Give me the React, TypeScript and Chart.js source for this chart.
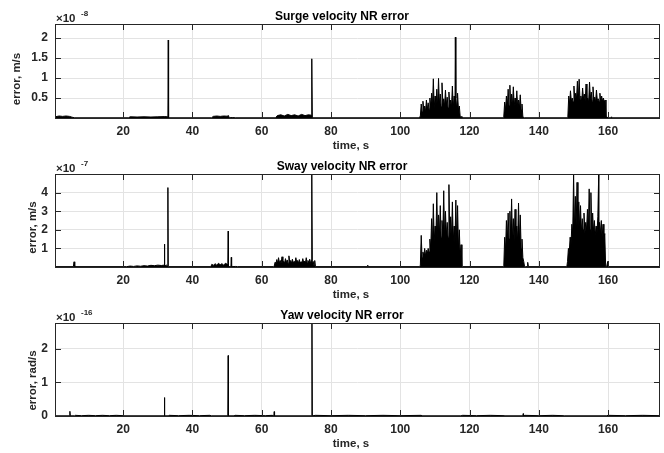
import React, { useEffect, useRef } from "react";
import { Chart, registerables } from "chart.js";
Chart.register(...registerables);

// ---------- shared axis data ----------
const SAMPLE_DT = 0.25; // s, spacing of samples inside the dense bursts
const X_MIN = 0.3;
const X_MAX = 175;
const xTicks = [20, 40, 60, 80, 100, 120, 140, 160];

// ---------- Surge velocity NR error (x1e-8 m/s) ----------
const surgeYTicks = [0.5, 1, 1.5, 2];
const surgeYTickLabels = ["0.5", "1", "1.5", "2"];
const surgeQuiet: [number, number][] = [
  [0.3, 0.03], [1.5, 0.05], [2.5, 0.04], [3.5, 0.05], [4.5, 0.04], [5.2, 0.02], [6, 0.005],
  [21.5, 0.005], [22, 0.03], [24, 0.025], [26, 0.03], [28, 0.025], [30, 0.03], [32, 0.035], [32.8, 0.03],
  [32.9, 0.005], [33.0, 1.95], [33.1, 0.005],
  [45.5, 0.005], [46, 0.04], [47, 0.05], [48, 0.04], [49, 0.05], [50, 0.045], [50.4, 0.06], [50.6, 0.005],
  [51.5, 0.012], [52.5, 0.005],
  [64, 0.005], [64.5, 0.06], [65.5, 0.08], [66.5, 0.05], [67.5, 0.09], [68.5, 0.06], [69.5, 0.08],
  [70.5, 0.05], [71.5, 0.09], [72.5, 0.06], [73.5, 0.08], [74.3, 0.07],
  [74.4, 0.005], [74.5, 1.48], [74.6, 0.005],
  [105.5, 0.005], [115.9, 2.02],
  [117.5, 0.005], [117.8, 0.04], [118, 0.005],
  [129.7, 0.005], [135.8, 0.005],
  [148.2, 0.005], [160, 0.005], [160.8, 0.005], [161, 0.03], [161.2, 0.005], [175, 0.005],
];
const surgeBurstStarts = [105.8, 129.9, 148.4];
const surgeBurstA = [
  0.05, 0.35, 0.15, 0.42, 0.18, 0.3, 0.15, 0.45, 0.2, 0.38,
  0.22, 0.5, 0.28, 0.62, 0.3, 0.98, 0.25, 0.55, 0.32, 0.72,
  0.3, 0.99, 0.35, 0.6, 0.28, 0.88, 0.35, 0.48, 0.3, 0.7,
  0.32, 0.52, 0.25, 0.65, 0.3, 0.45, 0.28, 0.8, 0.25, 0.55,
  0.3, 0.5, 0.22, 0.62, 0.2, 0.3, 0.04,
];
const surgeBurstB = [
  0.05, 0.4, 0.2, 0.55, 0.25, 0.72, 0.3, 0.82, 0.28, 0.6, 0.32, 0.78,
  0.3, 0.5, 0.3, 0.68, 0.28, 0.45, 0.25, 0.58, 0.2, 0.35, 0.03,
];
const surgeBurstC = [
  0.05, 0.55, 0.35, 0.68, 0.42, 0.5, 0.4, 0.8, 0.45, 0.62,
  0.48, 0.92, 0.42, 0.97, 0.45, 0.55, 0.4, 0.75, 0.48, 0.6,
  0.42, 0.85, 0.46, 0.5, 0.4, 0.9, 0.48, 0.65, 0.42, 0.78,
  0.45, 0.52, 0.4, 0.7, 0.44, 0.48, 0.42, 0.62, 0.4, 0.55,
  0.42, 0.5, 0.4, 0.45, 0.04,
];

// ---------- Sway velocity NR error (x1e-7 m/s) ----------
const swayYTicks = [1, 2, 3, 4];
const swayYTickLabels = ["1", "2", "3", "4"];
const swayQuiet: [number, number][] = [
  [0.3, 0.02], [5.6, 0.02], [5.8, 0.28], [6.0, 0.02],
  [21, 0.02], [22, 0.05], [23, 0.03], [24, 0.06], [25, 0.04], [26, 0.07], [27, 0.05], [28, 0.09],
  [29, 0.07], [30, 0.1], [31, 0.08], [31.8, 0.1], [31.9, 1.23], [32.0, 0.05], [32.5, 0.1], [32.8, 0.05],
  [32.9, 4.27], [33.0, 0.02],
  [45.3, 0.02], [45.6, 0.15], [46, 0.08], [46.5, 0.18], [47, 0.1], [47.5, 0.2], [48, 0.12], [48.5, 0.18],
  [49, 0.1], [49.5, 0.2], [50, 0.15], [50.2, 0.02], [50.3, 1.93], [50.4, 0.02],
  [51.1, 0.02], [51.2, 0.52], [51.3, 0.02], [52.5, 0.03], [53, 0.02],
  [63.4, 0.02], [74.45, 5.0], [75.3, 0.35], [75.5, 0.02],
  [90.5, 0.02], [90.6, 0.1], [90.7, 0.02],
  [105.6, 0.02], [117.9, 0.02],
  [129.7, 0.02], [136.6, 0.02], [136.8, 0.25], [137, 0.02],
  [148.1, 0.02], [157.3, 5.0],
  [159.6, 0.02], [159.9, 0.3], [160.2, 0.02], [175, 0.02],
];
const swayBurstStarts = [63.6, 105.8, 129.9, 148.3];
const swayBurst0 = [
  0.05, 0.25, 0.18, 0.4, 0.2, 0.5, 0.22, 0.35, 0.2, 0.55,
  0.25, 0.3, 0.2, 0.45, 0.22, 0.38, 0.2, 0.6, 0.25, 0.35,
  0.2, 0.42, 0.22, 0.3, 0.2, 0.5, 0.25, 0.35, 0.2, 0.4,
  0.22, 0.28, 0.2, 0.45, 0.25, 0.32, 0.2, 0.5, 0.22, 0.35,
  0.2, 0.42, 0.18, 0.38, 0.15, 0.3, 0.05,
];
const swayBurstA = [
  0.1, 1.7, 0.5, 0.8, 0.6, 1.0, 0.6, 0.9, 0.7, 1.0,
  0.8, 1.5, 1.0, 2.6, 1.3, 3.4, 1.4, 2.2, 1.6, 4.0,
  1.5, 2.8, 1.7, 3.3, 1.6, 2.5, 1.8, 4.1, 1.5, 3.0,
  1.7, 2.4, 1.6, 4.43, 1.5, 2.7, 1.6, 3.5, 1.4, 2.2,
  1.3, 3.6, 1.2, 3.3, 1.0, 2.0, 0.6, 1.2, 0.05,
];
const swayBurstB = [
  0.1, 1.6, 0.9, 2.5, 1.3, 2.9, 1.5, 3.0, 1.6, 3.66, 1.5, 2.6, 1.4,
  3.1, 1.5, 2.2, 1.4, 3.44, 1.3, 2.8, 1.0, 1.5, 0.5, 0.3, 0.02, 0.02,
];
const swayBurstC = [
  0.3, 1.0, 0.8, 1.6, 1.2, 2.3, 1.8, 5.0, 2.0, 3.8,
  2.2, 4.55, 2.0, 3.5, 2.1, 3.3, 1.9, 2.6, 2.0, 2.9,
  1.8, 2.4, 2.0, 3.1, 1.9, 4.2, 2.0, 4.0, 1.8, 2.9,
  1.9, 2.5, 1.7, 2.2, 1.8, 2.7, 1.7, 2.4, 1.8, 2.5,
  1.6, 2.3, 1.4, 1.8, 0.05,
];

// ---------- Yaw velocity NR error (x1e-16 rad/s) ----------
const yawYTicks = [0, 1, 2];
const yawYTickLabels = ["0", "1", "2"];
const yawQuiet: [number, number][] = [
  [0.3, 0.005], [4.5, 0.005], [4.6, 0.14], [4.7, 0.005], [6.0, 0.005], [6.2, 0.02], [8, 0.01], [10, 0.02],
  [12, 0.01], [14, 0.02], [16, 0.01], [18, 0.02], [20, 0.01], [20.5, 0.005],
  [31.8, 0.005], [31.9, 0.55], [32.0, 0.005], [33, 0.005], [33.3, 0.02], [36, 0.01], [39, 0.02], [42, 0.01],
  [45, 0.02], [45.5, 0.005], [50.2, 0.005], [50.3, 1.8], [50.4, 0.005], [52, 0.005], [52.3, 0.02], [55, 0.01],
  [58, 0.02], [61, 0.01], [63, 0.02], [63.5, 0.005], [63.6, 0.13], [63.7, 0.005],
  [74.4, 0.005], [74.5, 2.77], [74.6, 0.005], [75.5, 0.02], [80, 0.01], [85, 0.02], [90, 0.01], [95, 0.02],
  [100, 0.01], [106, 0.02], [106.5, 0.005], [117.5, 0.005], [118, 0.02], [122, 0.01], [126, 0.02],
  [130, 0.01], [130.5, 0.005], [135.4, 0.005], [135.5, 0.07], [135.6, 0.005], [136, 0.02], [140, 0.01],
  [144, 0.02], [147, 0.01], [147.5, 0.005], [159.5, 0.005], [160, 0.02], [165, 0.01], [170, 0.02], [175, 0.01],
];

// ---------- helpers ----------
function buildSeries(quiet: [number, number][], starts: number[], bursts: number[][]) {
  const pts: { x: number; y: number }[] = quiet.map(([x, y]) => ({ x, y }));
  bursts.forEach((vals, b) => {
    vals.forEach((v, i) => pts.push({ x: starts[b] + i * SAMPLE_DT, y: v }));
  });
  pts.sort((a, b) => a.x - b.x);
  return pts;
}

const FONT = "'Liberation Sans', Arial, Helvetica, sans-serif";
const AXIS_COLOR = "#262626";

type PanelProps = {
  top: number;
  height: number;
  padTop: number;
  xAxisH: number;
  yMin: number;
  yMax: number;
  yTicks: number[];
  yTickLabels: string[];
  points: { x: number; y: number }[];
  title: string;
  ylabel: string;
  exponent: string;
  ylabelX: number;
  ylabelDy: number;
};

function Panel(p: PanelProps) {
  const ref = useRef<HTMLCanvasElement | null>(null);
  useEffect(() => {
    if (!ref.current) return;
    const deco = {
      id: "matlabDeco",
      afterDraw(chart: any) {
        const { ctx, chartArea: a } = chart;
        const xs = chart.scales.x;
        const ys = chart.scales.y;
        ctx.save();
        ctx.strokeStyle = AXIS_COLOR;
        ctx.lineWidth = 1;
        ctx.beginPath();
        xTicks.forEach((v) => {
          const px = Math.round(xs.getPixelForValue(v)) + 0.5;
          ctx.moveTo(px, a.bottom);
          ctx.lineTo(px, a.bottom - 6);
          ctx.moveTo(px, a.top);
          ctx.lineTo(px, a.top + 6);
        });
        p.yTicks.forEach((v) => {
          const py = Math.round(ys.getPixelForValue(v)) + 0.5;
          ctx.moveTo(a.left, py);
          ctx.lineTo(a.left + 6, py);
          ctx.moveTo(a.right, py);
          ctx.lineTo(a.right - 6, py);
        });
        ctx.stroke();
        ctx.strokeRect(Math.round(a.left) + 0.5, Math.round(a.top) + 0.5, Math.round(a.right - a.left) - 1, Math.round(a.bottom - a.top));
        ctx.fillStyle = "#000";
        // title
        ctx.font = `bold 12px ${FONT}`;
        ctx.textAlign = "center";
        ctx.textBaseline = "alphabetic";
        ctx.fillText(p.title, 342, a.top - 4.5);
        // x label
        ctx.fillStyle = AXIS_COLOR;
        ctx.font = `bold 11.5px ${FONT}`;
        ctx.fillText("time, s", 351, a.bottom + 31);
        // exponent
        ctx.textAlign = "left";
        ctx.font = `bold 11.5px ${FONT}`;
        ctx.fillText("\u00d710", a.left + 1, a.top - 2);
        ctx.font = `bold 8px ${FONT}`;
        ctx.fillText(p.exponent, a.left + 26, a.top - 8);
        // y label
        ctx.font = `bold 11.5px ${FONT}`;
        ctx.translate(p.ylabelX, (a.top + a.bottom) / 2 + p.ylabelDy);
        ctx.rotate(-Math.PI / 2);
        ctx.textAlign = "center";
        ctx.textBaseline = "middle";
        ctx.fillText(p.ylabel, 0, 0);
        ctx.restore();
      },
    };
    const chart = new Chart(ref.current, {
      type: "line",
      data: {
        datasets: [
          {
            data: p.points,
            borderColor: "#000",
            backgroundColor: "#000",
            borderWidth: 1,
            pointRadius: 0,
            tension: 0,
            fill: "origin",
          },
        ],
      },
      options: {
        animation: false,
        responsive: false,
        devicePixelRatio: 1,
        layout: { padding: { top: p.padTop, right: 4, left: 0, bottom: 0 } },
        plugins: { legend: { display: false }, tooltip: { enabled: false }, title: { display: false } },
        scales: {
          x: {
            type: "linear",
            min: X_MIN,
            max: X_MAX,
            afterBuildTicks: (s: any) => {
              s.ticks = xTicks.map((v) => ({ value: v }));
            },
            afterFit: (s: any) => {
              s.height = p.xAxisH;
            },
            grid: { color: "#e3e3e3", drawTicks: false },
            border: { display: false },
            ticks: {
              color: AXIS_COLOR,
              padding: 6,
              maxRotation: 0,
              autoSkip: false,
              font: { family: FONT, size: 12, weight: "bold" },
              callback: (v: any) => String(v),
            },
          },
          y: {
            type: "linear",
            min: p.yMin,
            max: p.yMax,
            afterBuildTicks: (s: any) => {
              s.ticks = p.yTicks.map((v) => ({ value: v }));
            },
            afterFit: (s: any) => {
              s.width = 55;
            },
            grid: { color: "#e3e3e3", drawTicks: false },
            border: { display: false },
            ticks: {
              color: AXIS_COLOR,
              padding: 7,
              autoSkip: false,
              font: { family: FONT, size: 12, weight: "bold" },
              callback: (_v: any, i: number) => p.yTickLabels[i],
            },
          },
        },
      },
      plugins: [deco],
    } as any);
    return () => chart.destroy();
  }, []);
  return (
    <canvas
      ref={ref}
      width={664}
      height={p.height}
      style={{ position: "absolute", left: 0, top: p.top, width: 664, height: p.height }}
    />
  );
}

export default function App() {
  const surge = buildSeries(surgeQuiet, surgeBurstStarts, [surgeBurstA, surgeBurstB, surgeBurstC]);
  const sway = buildSeries(swayQuiet, swayBurstStarts, [swayBurst0, swayBurstA, swayBurstB, swayBurstC]);
  const yaw = buildSeries(yawQuiet, [], []);
  return (
    <div style={{ position: "fixed", left: 0, top: 0, width: 664, height: 453, background: "#fff" }}>
      <Panel
        top={0}
        height={151}
        padTop={24}
        xAxisH={33}
        yMin={0.0}
        yMax={2.35}
        yTicks={surgeYTicks}
        yTickLabels={surgeYTickLabels}
        points={surge}
        title="Surge velocity NR error"
        ylabel="error, m/s"
        exponent="-8"
        ylabelX={17}
        ylabelDy={8}
      />
      <Panel
        top={151}
        height={151}
        padTop={23}
        xAxisH={35}
        yMin={0}
        yMax={5.0}
        yTicks={swayYTicks}
        yTickLabels={swayYTickLabels}
        points={sway}
        title="Sway velocity NR error"
        ylabel="error, m/s"
        exponent="-7"
        ylabelX={33}
        ylabelDy={7}
      />
      <Panel
        top={302}
        height={151}
        padTop={21}
        xAxisH={37}
        yMin={0}
        yMax={2.77}
        yTicks={yawYTicks}
        yTickLabels={yawYTickLabels}
        points={yaw}
        title="Yaw velocity NR error"
        ylabel="error, rad/s"
        exponent="-16"
        ylabelX={33}
        ylabelDy={11}
      />
    </div>
  );
}
